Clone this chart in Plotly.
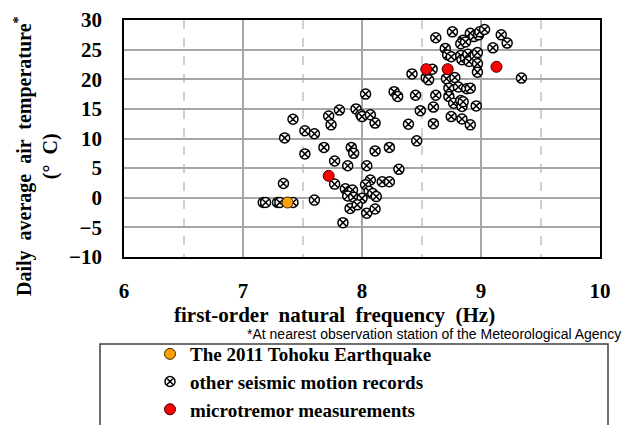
import plotly.graph_objects as go

# ---- data ----
other_x = [8.62, 8.76, 8.91, 8.94, 8.98, 8.99, 9.03, 9.17, 9.22, 9.10, 8.85, 8.83, 8.87, 8.70,
           8.72, 8.75, 8.83, 8.84, 8.87, 8.89, 8.90, 8.95, 8.97, 8.97, 8.97, 8.59, 8.42, 8.54,
           8.56, 8.71, 8.78, 9.34,
           8.73, 8.81, 8.88, 8.91, 8.73, 8.62, 8.45, 8.27, 8.30, 8.03, 8.77, 8.83, 8.84, 8.85,
           8.96, 8.60, 8.49, 8.75, 8.84, 8.91, 8.39, 8.60, 8.11, 8.46, 7.81, 7.95, 7.99, 8.00,
           8.07, 7.72, 7.74, 7.42, 7.52, 7.60, 7.35, 7.68, 7.91, 7.93, 8.11, 8.23, 7.52, 7.77,
           7.88, 8.04, 8.31, 7.77, 8.07, 8.03, 8.17, 8.23, 7.86, 7.89, 7.92, 7.88, 7.93, 8.00,
           8.06, 8.09, 8.12, 7.90, 7.96, 8.04, 8.11, 7.84, 7.34, 7.60, 7.17, 7.19, 7.29, 7.31,
           7.42]
other_y = [27.0, 28.0, 27.75, 27.2, 27.5, 28.0, 28.4, 27.5, 26.1, 25.3, 26.6, 26.0, 26.3, 25.2,
           24.1, 23.8, 24.0, 23.3, 23.6, 24.2, 23.0, 24.0, 24.5, 22.6, 21.2, 21.7, 20.9, 20.3,
           19.9, 20.1, 20.3, 20.2,
           18.5, 18.7, 18.4, 18.5, 17.1, 17.3, 17.3, 17.9, 17.1, 17.5, 15.95, 16.4, 15.4, 16.2,
           15.5, 15.3, 14.7, 13.7, 13.3, 12.3, 12.4, 12.5, 12.6, 9.6, 14.8, 15.0, 14.0, 13.7,
           14.0, 13.8, 12.3, 13.25, 11.3, 10.8, 10.1, 8.5, 8.5, 7.5, 7.9, 8.5, 7.4, 6.2,
           5.4, 5.4, 4.8, 2.3, 3.0, 2.2, 2.7, 2.7, 1.5, 0.8, 1.3, 0.3, 0.1, -0.1,
           1.1, 0.7, 0.2, -1.8, -1.2, -2.6, -1.9, -4.2, 2.4, -0.4, -0.8, -0.8, -0.8, -0.8,
           -0.8]
tohoku_x = [7.375]
tohoku_y = [-0.8]
micro_x = [7.72, 8.54, 8.72, 9.13]
micro_y = [3.7, 21.7, 21.7, 22.1]

x_ticks = [6, 7, 8, 9, 10]
y_ticks = [-10, -5, 0, 5, 10, 15, 20, 25, 30]

# ---- layout geometry (pixels) ----
W, H = 625, 425
L, R, T, B = 124, 25, 20, 168
PW, PH = W - L - R, H - T - B


def px(xp):
    return (xp - L) / PW


def py(yp):
    return (H - B - yp) / PH


SERIF = "Liberation Serif"

fig = go.Figure()
fig.add_trace(go.Scatter(
    x=other_x, y=other_y, mode="markers", name="other seismic motion records",
    legendrank=2,
    marker=dict(symbol="circle-x", size=10, color="white",
                line=dict(color="black", width=1.5))))
fig.add_trace(go.Scatter(
    x=micro_x, y=micro_y, mode="markers", name="microtremor measurements",
    legendrank=3,
    marker=dict(symbol="circle", size=11, color="#ff0000",
                line=dict(color="#400000", width=1))))
fig.add_trace(go.Scatter(
    x=tohoku_x, y=tohoku_y, mode="markers", name="The 2011 Tohoku Earthquake",
    legendrank=1,
    marker=dict(symbol="circle", size=11, color="#ffa000",
                line=dict(color="#402800", width=1))))

fig.update_layout(
    width=W, height=H,
    margin=dict(l=L, r=R, t=T, b=B, autoexpand=False),
    paper_bgcolor="white", plot_bgcolor="white",
    font=dict(family=SERIF, size=20, color="black", weight="bold"),
    showlegend=True,
    legend=dict(x=px(150), y=py(335), xanchor="left", yanchor="top",
                bgcolor="rgba(0,0,0,0)", borderwidth=0,
                font=dict(family=SERIF, size=19, color="black", weight="bold"),
                traceorder="normal"),
    xaxis=dict(range=[6, 10], tickvals=x_ticks, ticks="", showgrid=True,
               gridcolor="#a6a6a6", gridwidth=1.5,
               minor=dict(dtick=0.5, showgrid=True, gridcolor="#d0d0d0",
                          griddash="dash", gridwidth=1.5),
               zeroline=False, showline=True, linecolor="black", linewidth=1.5,
               mirror=True, ticklabelstandoff=14,
               tickfont=dict(family=SERIF, size=21, color="black", weight="bold")),
    yaxis=dict(range=[-10, 30], tickvals=y_ticks, ticks="", showgrid=True,
               gridcolor="#a6a6a6", gridwidth=1.5, zeroline=False,
               showline=True, linecolor="black", linewidth=1.5, mirror=True,
               ticklabelstandoff=16,
               tickfont=dict(family=SERIF, size=21, color="black", weight="bold")),
    shapes=[dict(type="rect", xref="paper", yref="paper",
                 x0=px(100), x1=px(608), y0=py(344), y1=py(440),
                 line=dict(color="#404040", width=1.5), fillcolor="rgba(0,0,0,0)",
                 layer="below")],
    annotations=[
        dict(text="first-order \u00a0natural \u00a0frequency \u00a0(Hz)",
             xref="paper", yref="paper", x=px(334), y=py(315),
             xanchor="center", yanchor="middle", showarrow=False,
             font=dict(family=SERIF, size=21, weight="bold")),
        dict(text="Daily \u00a0average \u00a0air \u00a0temperature<sup>*</sup><br>(\u00b0 \u00a0C)",
             xref="paper", yref="paper", x=px(36), y=py(156),
             xanchor="center", yanchor="middle", showarrow=False, textangle=-90,
             font=dict(family=SERIF, size=20, weight="bold")),
        dict(text="*At nearest observation station of the Meteorological Agency",
             xref="paper", yref="paper", x=px(623), y=py(334),
             xanchor="right", yanchor="middle", showarrow=False,
             font=dict(family="Liberation Sans", size=14, weight="normal")),
    ],
)

fig.write_html("out.html")
